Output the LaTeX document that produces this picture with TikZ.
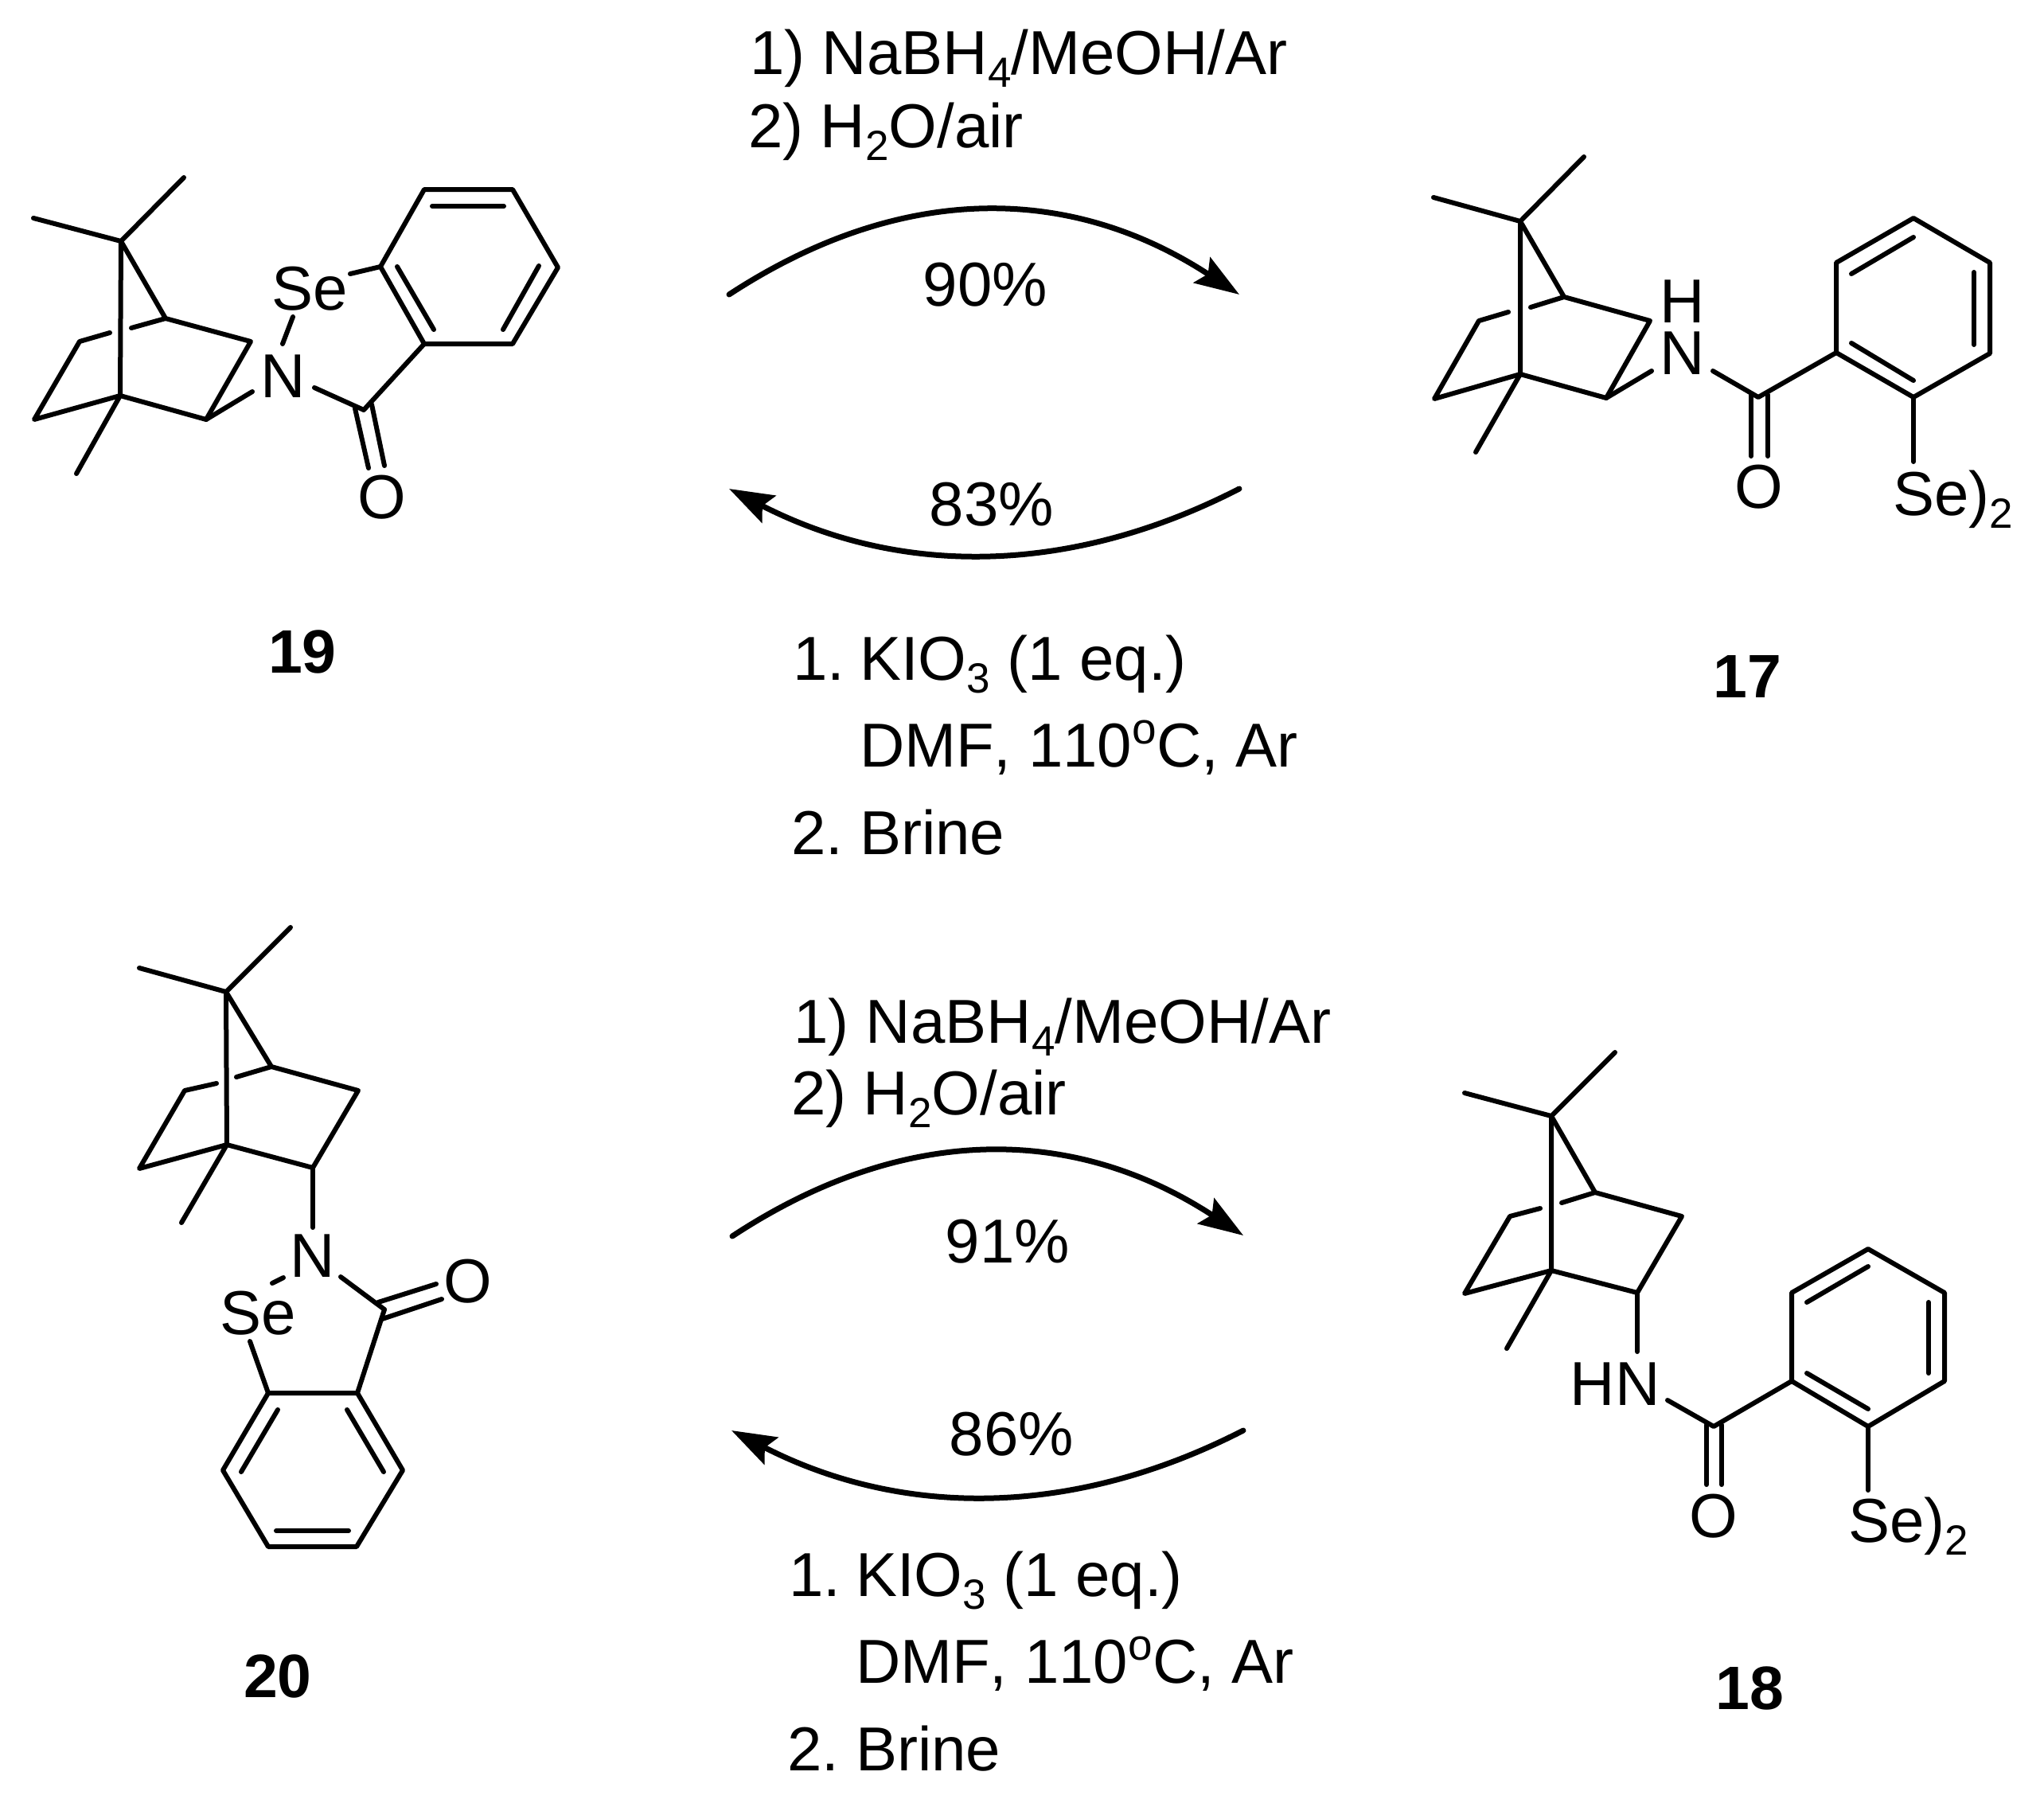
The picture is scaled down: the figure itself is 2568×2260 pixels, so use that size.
\documentclass[tikz,border=0pt]{standalone}
\usepackage{fontspec}
\setmainfont[Kerning=Off]{Liberation Sans}
\usetikzlibrary{arrows.meta}
\newcommand{\dn}[1]{\raisebox{-16pt}{\fontsize{53}{53}\selectfont #1}}
\newcommand{\upp}[1]{\raisebox{29pt}{\fontsize{55}{55}\selectfont #1}}
\tikzset{
  bond/.style={line width=6pt,line cap=round,line join=round,black},
  atom/.style={inner sep=0pt,outer sep=0pt,font=\fontsize{78}{90}\selectfont},
  txt/.style={atom,anchor=base west},
  pct/.style={atom,anchor=base},
  cpd/.style={inner sep=0pt,font=\fontsize{77}{90}\selectfont\bfseries,anchor=center},
  curved/.style={line width=7pt,line cap=round,-{Stealth[length=56pt,width=38pt,inset=9pt]},black}
}
\begin{document}
\begin{tikzpicture}[x=1pt,y=-1pt]
\path[fill=white,use as bounding box] (0,0) rectangle (2568,2260);

% --- compound 19 ---
\foreach \n/\p in {a7/{152,303},am1/{42,274},am2/{231,223},a1/{151,497},am3/{96,595},a4/{208,400},a3/{315,429},a2/{259,527},
  al1/{100,429},al2/{43,527},ag1/{138,418},ag2/{165,412},an1/{317,492},as1/{355,432},as2/{368,398},as3/{440,344},
  r1/{478,335},r2/{533,238},r3/{644,238},r4/{701,336},r5/{644,432},r6/{533,432},an2/{395,487},ac/{457,515},
  i1/{543,259},i2/{633,259},i3/{499,335},i4/{545,414},i5/{677,334},i6/{632,414},o1/{446,513},o2/{463,588},o3/{467,508},o4/{483,585}}
  {\coordinate (\n) at (\p);}
\node[atom] (aN) at (356,473) {N};
\node[atom] (aSe) at (389,363) {Se};
\node[atom] (aO) at (480,625) {O};
\draw[bond] (am1)--(a7)--(am2);
\draw[bond] (a7)--(a1)--(am3);
\draw[bond] (a7)--(a4)--(a3)--(a2)--(a1)--(al2)--(al1)--(ag1);
\draw[bond] (ag2)--(a4);
\draw[bond] (a2)--(an1);
\draw[bond] (as1)--(as2);
\draw[bond] (as3)--(r1);
\draw[bond] (an2)--(ac)--(r6);
\draw[bond] (r1)--(r2)--(r3)--(r4)--(r5)--(r6)--cycle;
\draw[bond] (i1)--(i2); \draw[bond] (i3)--(i4); \draw[bond] (i5)--(i6);
\draw[bond] (o1)--(o2); \draw[bond] (o3)--(o4);
\node[cpd] (n19) at (380,819) {19};

% --- compound 17 ---
\foreach \n/\p in {b7/{1910,278},bm1/{1801,248},bm2/{1990,197},b1/{1910,470},bm3/{1854,568},b4/{1965,373},b3/{2073,403},b2/{2018,500},
  bl1/{1858,403},bl2/{1802,501},bg1/{1895,392},bg2/{1923,386},bn1/{2075,466},bn2/{2152,466},bc/{2209,499},
  s1/{2307,443},s2/{2307,330},s3/{2404,274},s4/{2500,330},s5/{2500,444},s6/{2404,499},
  j1/{2326,344},j2/{2404,298},j3/{2480,342},j4/{2480,433},j5/{2326,431},j6/{2404,478},
  p1/{2200,496},p2/{2200,573},p3/{2221,496},p4/{2221,573},bs/{2404,580}}
  {\coordinate (\n) at (\p);}
\node[inner sep=0pt,outer sep=0pt,align=center,font=\fontsize{78}{65}\selectfont] (bHN) at (2114,411.5) {H\\N};
\node[atom] (bO) at (2210,612) {O};
\node[txt] (bSe) at (2378,647) {Se)\dn{2}};
\draw[bond] (bm1)--(b7)--(bm2);
\draw[bond] (b7)--(b1)--(bm3);
\draw[bond] (b7)--(b4)--(b3)--(b2)--(b1)--(bl2)--(bl1)--(bg1);
\draw[bond] (bg2)--(b4);
\draw[bond] (b2)--(bn1);
\draw[bond] (bn2)--(bc)--(s1);
\draw[bond] (s1)--(s2)--(s3)--(s4)--(s5)--(s6)--cycle;
\draw[bond] (j1)--(j2); \draw[bond] (j3)--(j4); \draw[bond] (j5)--(j6);
\draw[bond] (p1)--(p2); \draw[bond] (p3)--(p4);
\draw[bond] (s6)--(bs);
\node[cpd] (n17) at (2195,850) {17};

% --- compound 20 ---
\foreach \n/\p in {c7/{284,1246},cm1/{175,1216},cm2/{365,1165},c1/{285,1438},cm3/{228,1536},c4/{341,1340},c3/{450,1370},c2/{393,1467},
  cl1/{232,1370},cl2/{175,1468},cg1/{272,1361},cg2/{297,1353},cn1/{393,1542},cs1/{356,1605},cs2/{342,1612},cs3/{314,1685},
  t1/{337,1750},t2/{449,1750},t3/{506,1847},t4/{448,1943},t5/{337,1943},t6/{280,1847},
  k1/{349,1771},k2/{303,1849},k3/{436,1771},k4/{482,1849},k5/{347,1923},k6/{438,1923},
  cn2/{428,1604},cc/{483,1645},q1/{475,1636},q2/{548,1613},q3/{480,1657},q4/{555,1632}}
  {\coordinate (\n) at (\p);}
\node[atom] (cN) at (393,1578) {N};
\node[atom] (cSe) at (324,1650) {Se};
\node[atom] (cO) at (588,1610) {O};
\draw[bond] (cm1)--(c7)--(cm2);
\draw[bond] (c7)--(c1)--(cm3);
\draw[bond] (c7)--(c4)--(c3)--(c2)--(c1)--(cl2)--(cl1)--(cg1);
\draw[bond] (cg2)--(c4);
\draw[bond] (c2)--(cn1);
\draw[bond] (cs1)--(cs2);
\draw[bond] (cs3)--(t1);
\draw[bond] (cn2)--(cc)--(t2);
\draw[bond] (t1)--(t2)--(t3)--(t4)--(t5)--(t6)--cycle;
\draw[bond] (k1)--(k2); \draw[bond] (k3)--(k4); \draw[bond] (k5)--(k6);
\draw[bond] (q1)--(q2); \draw[bond] (q3)--(q4);
\node[cpd] (n20) at (349,2106) {20};

% --- compound 18 ---
\foreach \n/\p in {d7/{1949,1402},dm1/{1840,1373},dm2/{2029,1322},d1/{1949,1596},dm3/{1893,1694},d4/{2004,1498},d3/{2113,1528},d2/{2057,1624},
  dl1/{1897,1528},dl2/{1840,1625},dg1/{1935,1518},dg2/{1962,1511},dn1/{2057,1698},dn2/{2095,1759},dc/{2153,1792},
  u1/{2251,1735},u2/{2251,1624},u3/{2347,1569},u4/{2443,1624},u5/{2443,1735},u6/{2347,1792},
  l1/{2270,1636},l2/{2347,1591},l3/{2423,1636},l4/{2423,1725},l5/{2270,1725},l6/{2347,1770},
  v1/{2144,1790},v2/{2144,1865},v3/{2163,1790},v4/{2163,1865},ds/{2347,1872}}
  {\coordinate (\n) at (\p);}
\node[atom] (dHN) at (2029,1739) {HN};
\node[atom] (dO) at (2153,1905) {O};
\node[txt] (dSe) at (2322,1937) {Se)\dn{2}};
\draw[bond] (dm1)--(d7)--(dm2);
\draw[bond] (d7)--(d1)--(dm3);
\draw[bond] (d7)--(d4)--(d3)--(d2)--(d1)--(dl2)--(dl1)--(dg1);
\draw[bond] (dg2)--(d4);
\draw[bond] (d2)--(dn1);
\draw[bond] (dn2)--(dc)--(u1);
\draw[bond] (u1)--(u2)--(u3)--(u4)--(u5)--(u6)--cycle;
\draw[bond] (l1)--(l2); \draw[bond] (l3)--(l4); \draw[bond] (l5)--(l6);
\draw[bond] (v1)--(v2); \draw[bond] (v3)--(v4);
\draw[bond] (u6)--(ds);
\node[cpd] (n18) at (2198,2121) {18};

% --- upper reaction ---
\node[txt] (t1a) at (942,93) {1) NaBH\dn{4}/MeOH/Ar};
\node[txt] (t1b) at (940,185) {2) H\dn{2}O/air};
\node[pct] (p90) at (1238,384) {90\%};
\node[pct] (p83) at (1246,660) {83\%};
\node[txt] (t2a) at (996,854) {1.};
\node[txt] (t2b) at (1080,854) {KIO\dn{3} (1 eq.)};
\node[txt] (t2c) at (1080,963) {DMF, 110\upp{o}C, Ar};
\node[txt] (t2d) at (994,1073) {2.};
\node[txt] (t2e) at (1080,1073) {Brine};
\coordinate (A1) at (916,370); \coordinate (A2) at (1557,370);
\coordinate (A3) at (1557,614); \coordinate (A4) at (916,614);
\draw[curved] (A1) .. controls (1130,230) and (1343,230) .. (A2);
\draw[curved] (A3) .. controls (1343,724) and (1130,724) .. (A4);

% --- lower reaction ---
\node[txt] (t3a) at (997,1310) {1) NaBH\dn{4}/MeOH/Ar};
\node[txt] (t3b) at (994,1400) {2) H\dn{2}O/air};
\node[pct] (p91) at (1266,1586) {91\%};
\node[pct] (p86) at (1271,1828) {86\%};
\node[txt] (t4a) at (991,2005) {1.};
\node[txt] (t4b) at (1075,2005) {KIO\dn{3} (1 eq.)};
\node[txt] (t4c) at (1075,2114) {DMF, 110\upp{o}C, Ar};
\node[txt] (t4d) at (989,2224) {2.};
\node[txt] (t4e) at (1075,2224) {Brine};
\coordinate (B1) at (920,1553); \coordinate (B2) at (1562,1552);
\coordinate (B3) at (1562,1797); \coordinate (B4) at (919,1797);
\draw[curved] (B1) .. controls (1134,1412) and (1348,1412) .. (B2);
\draw[curved] (B3) .. controls (1348,1907) and (1133,1907) .. (B4);
\end{tikzpicture}
\end{document}
